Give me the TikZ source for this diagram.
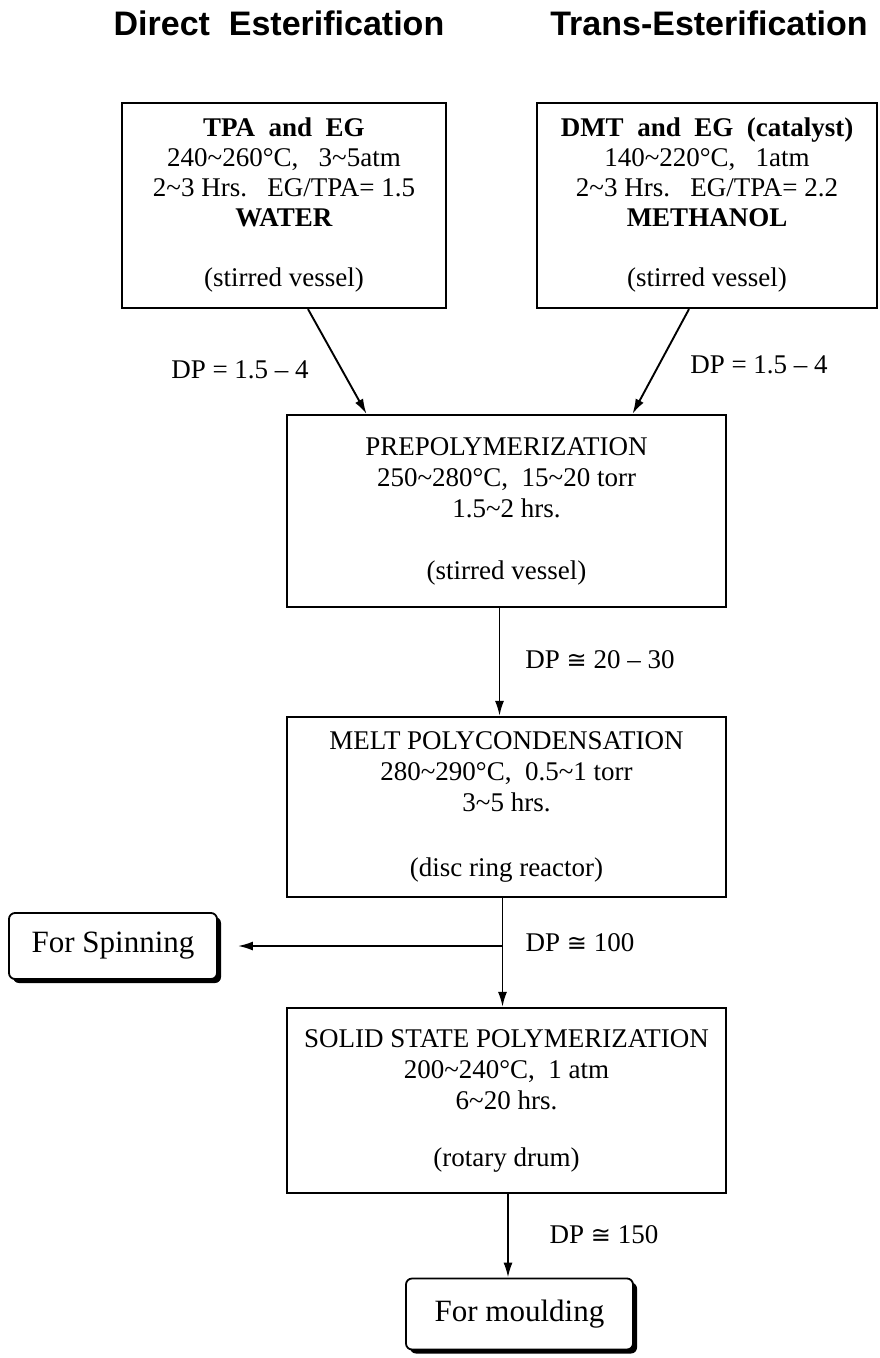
\documentclass[tikz,border=0pt]{standalone}
\usepackage{fontspec}
\setmainfont{Liberation Serif}
\newfontfamily\headfont{Liberation Sans}
\newfontfamily\symfont{DejaVu Sans}
\usepackage{tikz}
\usetikzlibrary{positioning, arrows.meta, shapes, shadows, calc}

\newcommand{\tld}{\textasciitilde}
\newcommand{\approxeq}{{\symfont\fontsize{24}{30}\selectfont ≅}}

\begin{document}
\begin{tikzpicture}[
    x=1pt, y=-1pt,
    heading/.style={anchor=base, font=\headfont\bfseries\fontsize{34}{40}\selectfont},
    feed/.style={draw, rectangle, line width=2.2pt, minimum height=205pt, align=center, font=\fontsize{27}{30}\selectfont},
    stage/.style={draw, rectangle, line width=2.2pt, minimum width=439pt, align=center, font=\fontsize{27}{31}\selectfont},
    product/.style={draw, rectangle, rounded corners=6pt, line width=1.8pt, fill=white, align=center, font=\fontsize{31}{36}\selectfont,
        drop shadow={shadow xshift=4pt, shadow yshift=-4pt, opacity=1, fill=black}},
    dplabel/.style={font=\fontsize{27}{30}\selectfont},
    arrow/.style={line width=1.9pt, -{Latex[length=15pt, width=9pt]}}
]
\fill[white] (0,0) rectangle (879,1358);
\useasboundingbox (0,0) rectangle (879,1358);

\node[heading] (dtitle) at (279,35) {Direct\ \ Esterification};
\node[heading] (ttitle) at (709,35) {Trans-Esterification};

\node[feed, minimum width=324pt] (tpa) at (284,205.5) {\textbf{TPA\ \ and\ \ EG}\\240\tld260°C,\ \ \ 3\tld5atm\\2\tld3 Hrs.\ \ \ EG/TPA= 1.5\\\textbf{WATER}\\[30pt](stirred vessel)};
\node[feed, minimum width=340pt] (dmt) at (707,205.5) {\textbf{DMT\ \ and\ \ EG\ \ (catalyst)}\\140\tld220°C,\ \ \ 1atm\\2\tld3 Hrs.\ \ \ EG/TPA= 2.2\\\textbf{METHANOL}\\[30pt](stirred vessel)};

\node[stage, minimum height=192pt] (prepoly) at (506.5,511) {PREPOLYMERIZATION\\250\tld280°C,\ \ 15\tld20 torr\\1.5\tld2 hrs.\\[31pt](stirred vessel)};
\node[stage, minimum height=180pt] (melt) at (506.5,807) {MELT POLYCONDENSATION\\280\tld290°C,\ \ 0.5\tld1 torr\\3\tld5 hrs.\\[34pt](disc ring reactor)};
\node[stage, minimum height=185pt] (ssp) at (506.5,1100.5) {SOLID STATE POLYMERIZATION\\200\tld240°C,\ \ 1 atm\\6\tld20 hrs.\\[26pt](rotary drum)};

\node[product, minimum width=208pt, minimum height=66pt] (spin) at (113,946) {For Spinning};
\node[product, minimum width=227pt, minimum height=71pt] (mould) at (519.5,1314) {For moulding};

\node[dplabel] (dpa) at (240,370) {DP = 1.5 -- 4};
\node[dplabel] (dpb) at (759,365) {DP = 1.5 -- 4};
\node[dplabel] (dpc) at (600,660) {DP \approxeq\ 20 -- 30};
\node[dplabel] (dpd) at (580,943) {DP \approxeq\ 100};
\node[dplabel] (dpe) at (604,1235) {DP \approxeq\ 150};

\coordinate (split) at ([xshift=-4pt]melt.south |- spin.east);

\draw [arrow] ([xshift=24pt]tpa.south) -- ([xshift=-140pt]prepoly.north);
\draw [arrow] ([xshift=-18pt]dmt.south) -- ([xshift=126pt]prepoly.north);
\draw [arrow] ([xshift=-7pt]prepoly.south) -- ([xshift=-7pt]melt.north);
\draw [arrow] ([xshift=-4pt]melt.south) -- ([xshift=-4pt]ssp.north);
\draw [arrow, shorten >=20pt] (split) -- (spin.east);
\draw [arrow] ([xshift=1.5pt]ssp.south) -- ([xshift=1.5pt]ssp.south |- mould.north);
\end{tikzpicture}
\end{document}
